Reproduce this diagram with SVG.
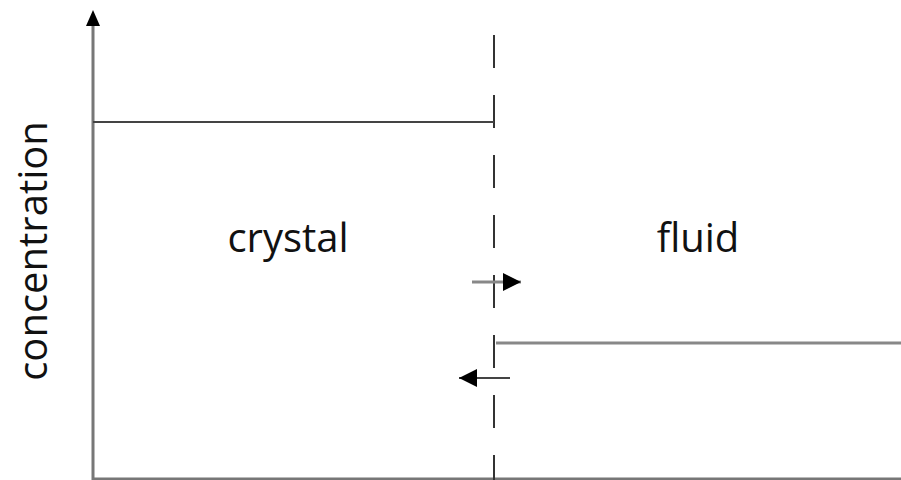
<svg xmlns="http://www.w3.org/2000/svg" width="901" height="480" viewBox="0 0 901 480">
<style>
.ax{stroke:#777;stroke-width:3;fill:none}
.ln{stroke:#444;stroke-width:2;fill:none}
.lg{stroke:#888;stroke-width:3;fill:none}
.ds{stroke:#333;stroke-width:2;stroke-dasharray:33 27;fill:none}
.t{font-family:"Open Sans",sans-serif;font-size:40px;fill:#111}
</style>
<defs>
<marker id="ah2" viewBox="0 0 10 10" refX="10" refY="5" markerWidth="18" markerHeight="18" markerUnits="userSpaceOnUse" orient="auto"><path d="M0,0 L10,5 L0,10 z" fill="#000"/></marker>
</defs>
<g id="axes">
<line class="ax" x1="93" y1="480" x2="93" y2="24"/>
<path d="M93,10 L86,26 L100,26 z" fill="#000"/>
<line class="ax" x1="92" y1="479" x2="901" y2="479"/>
</g>
<g id="interface">
<line class="ds" x1="494" y1="35" x2="494" y2="480"/>
</g>
<g id="crystal">
<line class="ln" x1="93" y1="122" x2="494" y2="122"/>
<text class="t" x="288" y="252" text-anchor="middle">crystal</text>
</g>
<g id="fluid">
<line class="lg" x1="496" y1="343" x2="901" y2="343"/>
<text class="t" x="698" y="252" text-anchor="middle">fluid</text>
</g>
<g id="connectors">
<line class="lg" x1="472" y1="282" x2="521" y2="282" marker-end="url(#ah2)"/>
<line class="ln" x1="510" y1="378" x2="459" y2="378" marker-end="url(#ah2)"/>
</g>
<g id="ylabel">
<text class="t" transform="translate(47,251) rotate(-90)" text-anchor="middle">concentration</text>
</g>
</svg>
